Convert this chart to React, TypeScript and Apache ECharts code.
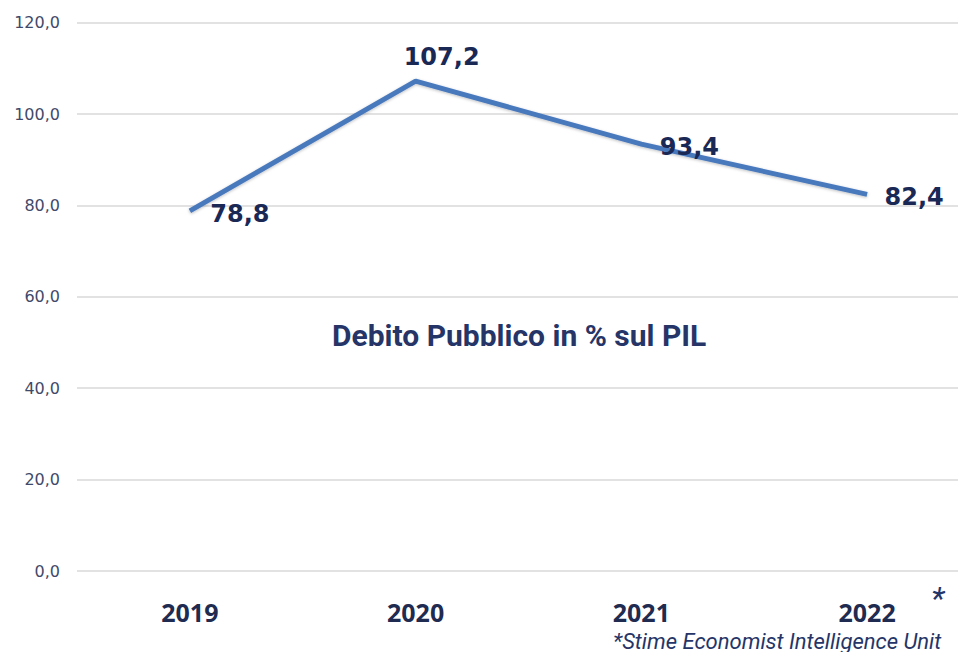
import React, { useEffect, useRef } from "react";
import * as echarts from "echarts";

const years = ["2019", "2020", "2021", "2022"];
const debtPct = [78.8, 107.2, 93.4, 82.4];
const yTicks = { min: 0, max: 120, interval: 20 };
const chartTitle = "Debito Pubblico in % sul PIL";
const footnote = "*Stime Economist Intelligence Unit";
const labelOffsets: [number, number][] = [
  [50, 3],
  [26, -24],
  [48, 3],
  [47, 3],
];

const fmt = (v: number) => v.toFixed(1).replace(".", ",");

export default function App() {
  const ref = useRef<HTMLDivElement>(null);
  useEffect(() => {
    if (!ref.current) return;
    const chart = echarts.init(ref.current, null, { renderer: "svg" });
    chart.setOption({
      animation: false,
      backgroundColor: "#ffffff",
      grid: { left: 77, top: 22.6, width: 903, bottom: 81, containLabel: false },
      xAxis: {
        type: "category",
        data: years,
        boundaryGap: true,
        axisLine: { show: false },
        axisTick: { show: false },
        axisLabel: {
          margin: 31,
          color: "#1f2b50",
          fontFamily: "Open Sans",
          fontWeight: "bold",
          fontSize: 25,
          lineHeight: 20,
        },
      },
      yAxis: {
        type: "value",
        min: yTicks.min,
        max: yTicks.max,
        interval: yTicks.interval,
        axisLine: { show: false },
        axisTick: { show: false },
        axisLabel: {
          margin: 17,
          color: "#3f4a6a",
          fontFamily: "DejaVu Sans",
          fontSize: 16,
          formatter: (v: number) => fmt(v),
        },
        splitLine: { lineStyle: { color: "#d9d9d9", width: 1.5 } },
      },
      series: [
        {
          type: "line",
          data: debtPct.map((v, i) => ({
            value: v,
            label: { offset: labelOffsets[i] },
          })),
          symbol: "circle",
          symbolSize: 1,
          showSymbol: true,
          itemStyle: { color: "rgba(74,121,189,0)" },
          lineStyle: {
            color: "#4a79bd",
            width: 5,
            shadowColor: "rgba(0,0,0,0.25)",
            shadowBlur: 3,
            shadowOffsetY: 1,
          },
          label: {
            show: true,
            position: "inside",
            color: "#1a2855",
            opacity: 1,
            fontFamily: "DejaVu Sans",
            fontWeight: "bold",
            fontSize: 24,
            formatter: (p: any) => fmt(p.value),
          },
        },
      ],
      graphic: [
        {
          type: "text",
          left: 332,
          top: 320,
          style: {
            text: chartTitle,
            fill: "#253567",
            font: "bold 30px Roboto",
          },
        },
        {
          type: "text",
          left: 931,
          top: 582,
          style: {
            text: "*",
            fill: "#253567",
            font: "italic 32px Roboto",
          },
        },
        {
          type: "text",
          left: 613,
          top: 630,
          style: {
            text: footnote,
            fill: "#253567",
            font: "italic 22px Roboto",
            lineHeight: 20,
          },
        },
      ],
    });
    return () => chart.dispose();
  }, []);
  return (
    <div
      style={{
        position: "absolute",
        left: 0,
        top: 0,
        width: 958,
        height: 652,
        overflow: "hidden",
      }}
    >
      <div ref={ref} style={{ width: 980, height: 652 }} />
    </div>
  );
}
